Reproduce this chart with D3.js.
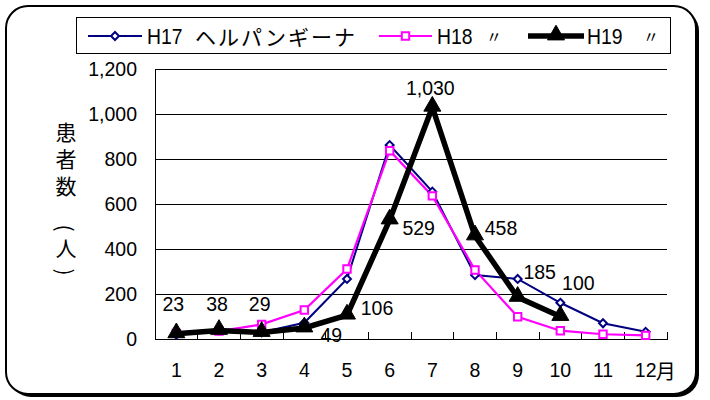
<!DOCTYPE html>
<html><head><meta charset="utf-8">
<script src="https://cdn.jsdelivr.net/npm/d3@7"></script>
<style>
html,body{margin:0;padding:0;background:#fff;}
text{font-family:Arial,"Liberation Sans","Noto Sans CJK JP",sans-serif;fill:#000;}
</style></head>
<body>
<svg id="chart" width="710" height="400"></svg>
<script>
const months = [1,2,3,4,5,6,7,8,9,10,11,12];
const seriesCodes = ["H17", "H18", "H19"];
const seriesSuffix = ["ヘルパンギーナ", "〃", "〃"];
const h17 = [20, 38, 30, 72, 267, 862, 655, 284, 267, 161, 70, 32];
const h18 = [25, 35, 65, 129, 311, 837, 636, 307, 99, 37, 21, 16];
const h19 = [23, 38, 29, 49, 106, 529, 1030, 458, 185, 100];
const yTicks = [0, 200, 400, 600, 800, 1000, 1200];
const yTitleMain = "患者数";
const yTitleUnit = ["(","人",")"];
const monthUnit = "月";
// label offsets (px) of H19 data labels relative to their points
const labelOffsets = [[-3,-30],[-2,-26],[-2,-28],[27,7],[30,-7],[29,8],[-2,-19],[26,-8],[22,-25],[18,-34]];

const svg = d3.select("#chart");
// frame with shadow
svg.append("rect").attr("x",9).attr("y",9).attr("width",690).attr("height",388).attr("rx",22)
  .attr("fill","#000");
svg.append("rect").attr("x",6).attr("y",6).attr("width",690).attr("height",388).attr("rx",22)
  .attr("fill","#fff").attr("stroke","#000").attr("stroke-width",2);

const L = 155, R = 667, T = 69, B = 339;
const x = d3.scaleBand().domain(months).range([L, R]);
const y = d3.scaleLinear().domain([0, 1200]).range([B, T]);
const cx = m => x(m) + x.bandwidth()/2;

// gridlines
svg.append("g").selectAll("line").data(yTicks.filter(d=>d>0)).join("line")
  .attr("x1",L).attr("x2",R).attr("y1",d=>y(d)).attr("y2",d=>y(d))
  .attr("stroke","#000").attr("stroke-width",1).attr("shape-rendering","crispEdges");

// y axis
const yAxis = svg.append("g").attr("transform",`translate(${L},0)`)
  .call(d3.axisLeft(y).tickValues(yTicks).tickSize(0).tickPadding(18).tickFormat(d3.format(",")));
yAxis.select(".domain").attr("stroke","#000").attr("stroke-width",1).attr("shape-rendering","crispEdges");
yAxis.selectAll("text").attr("font-size",19.5).style("font-family","Arial,'Liberation Sans',sans-serif");

// x axis
const xAxis = svg.append("g").attr("transform",`translate(0,${B})`)
  .call(d3.axisBottom(x).tickSize(0).tickPadding(24));
xAxis.select(".domain").attr("stroke","#000").attr("stroke-width",1).attr("shape-rendering","crispEdges");
xAxis.selectAll("text").attr("font-size",19.5).style("font-family","Arial,'Liberation Sans',sans-serif");
// inner tick marks between categories
const tickPos = months.map(m => x(m)).concat([R]).slice(1);
svg.append("g").selectAll("line").data(tickPos).join("line")
  .attr("x1",d=>d).attr("x2",d=>d).attr("y1",B).attr("y2",B-7)
  .attr("stroke","#000").attr("stroke-width",1).attr("shape-rendering","crispEdges");
// unit
svg.append("text").attr("x", cx(12)+10).attr("y", B+31).attr("font-size",20)
  .attr("dominant-baseline","central")
  .style("font-family","'Noto Sans CJK JP',sans-serif").text(monthUnit);

// y title (vertical)
svg.append("text").attr("x",66).attr("y",122)
  .style("writing-mode","vertical-rl").style("text-orientation","upright")
  .attr("letter-spacing",6)
  .attr("font-size",21).style("font-family","'Noto Sans CJK JP',sans-serif")
  .text(yTitleMain);
const unitY = [228,247,272];
svg.append("g").selectAll("text").data(yTitleUnit).join("text")
  .attr("x",66).attr("y",(d,i)=>unitY[i]).attr("text-anchor","middle").attr("dominant-baseline","central")
  .attr("transform",(d,i)=> i!==1 ? `rotate(90,66,${unitY[i]})` : null)
  .attr("font-size",21)
  .style("font-family","'Noto Sans CJK JP',sans-serif")
  .text(d=>d);

// lines
const line = d3.line().x((d,i)=>cx(months[i])).y(d=>y(d));
svg.append("path").datum(h17).attr("d",line).attr("fill","none").attr("stroke","#000080").attr("stroke-width",2);
svg.append("path").datum(h18).attr("d",line).attr("fill","none").attr("stroke","#FF00FF").attr("stroke-width",2.2);
svg.append("path").datum(h19).attr("d",line).attr("fill","none").attr("stroke","#000").attr("stroke-width",5.5).attr("stroke-linejoin","miter");

const diamond = d3.symbol().type(d3.symbolDiamond2).size(40);
const square = d3.symbol().type(d3.symbolSquare2).size(70);
const tri = d3.symbol().type(d3.symbolTriangle).size(125);

svg.append("g").selectAll("path").data(h17).join("path")
  .attr("d",diamond).attr("transform",(d,i)=>`translate(${cx(months[i])},${y(d)})`)
  .attr("fill","#fff").attr("stroke","#000080").attr("stroke-width",2);
svg.append("g").selectAll("path").data(h18).join("path")
  .attr("d",square).attr("transform",(d,i)=>`translate(${cx(months[i])},${y(d)})`)
  .attr("fill","#fff").attr("stroke","#FF00FF").attr("stroke-width",2);
svg.append("g").selectAll("path").data(h19).join("path")
  .attr("d",tri).attr("transform",(d,i)=>`translate(${cx(months[i])},${y(d)-1})`)
  .attr("fill","#000").attr("stroke","#000").attr("stroke-width",1);

// data labels
svg.append("g").selectAll("text").data(h19).join("text")
  .attr("x",(d,i)=>cx(months[i])+labelOffsets[i][0])
  .attr("y",(d,i)=>y(d)+labelOffsets[i][1])
  .attr("text-anchor","middle").attr("dominant-baseline","central")
  .attr("font-size",19.5).text(d=>d3.format(",")(d));

// legend
const lg = svg.append("g");
lg.append("rect").attr("x",76).attr("y",17).attr("width",594).attr("height",36)
  .attr("fill","#fff").attr("stroke","#000").attr("stroke-width",1).attr("shape-rendering","crispEdges");
const legendItems = [
  {x1:88,x2:142,tx:147,sx:195,color:"#000080",w:2,sym:diamond,fill:"#fff"},
  {x1:379,x2:432,tx:437,sx:486,color:"#FF00FF",w:2.2,sym:square,fill:"#fff"},
  {x1:528,x2:584,tx:587,sx:643,color:"#000",w:5.5,sym:tri,fill:"#000"}
];
const ly = 36;
legendItems.forEach((it,i)=>{
  lg.append("line").attr("x1",it.x1).attr("x2",it.x2).attr("y1",ly).attr("y2",ly)
    .attr("stroke",it.color).attr("stroke-width",it.w);
  lg.append("path").attr("d",it.sym).attr("transform",`translate(${(it.x1+it.x2)/2},${ly-(i===2?1:0)})`)
    .attr("fill",it.fill).attr("stroke",it.color).attr("stroke-width",i===2?1:2);
  lg.append("text").attr("transform",`translate(${it.tx},${ly}) scale(0.88,1)`)
    .attr("dominant-baseline","central").attr("font-size",22).text(seriesCodes[i]);
  lg.append("text").attr("x",it.sx).attr("y",ly).attr("dominant-baseline","central")
    .style("font-family","'Noto Sans CJK JP',sans-serif")
    .attr("font-size", i===0?21:16).attr("letter-spacing", i===0?2:0).text(seriesSuffix[i]);
});
</script>
</body></html>
